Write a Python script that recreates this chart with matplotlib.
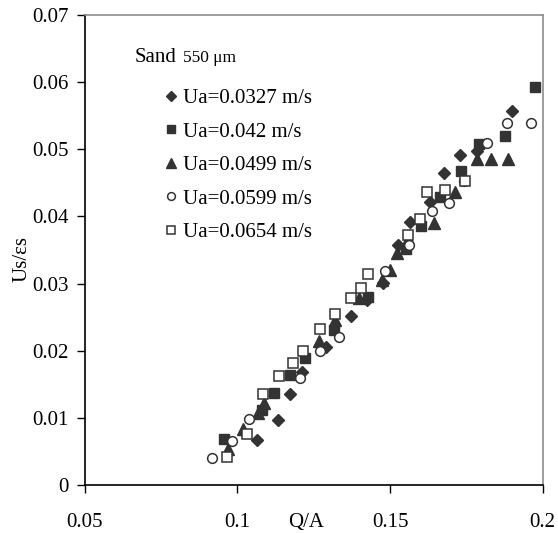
import matplotlib
matplotlib.use("Agg")
import matplotlib.pyplot as plt

plt.rcParams['font.family'] = ['Liberation Serif', 'DejaVu Serif']
plt.rcParams['mathtext.fontset'] = 'stix'

# Data (Q/A, Us/eps_s)
x_0327 = [0.1066, 0.1134, 0.1174, 0.1213, 0.1291, 0.1371, 0.1424, 0.1478, 0.1526, 0.1564, 0.1631, 0.1678, 0.1729, 0.1784, 0.1898]
y_0327 = [0.0067, 0.0097, 0.0136, 0.0168, 0.0206, 0.0251, 0.0275, 0.0301, 0.0357, 0.0391, 0.0422, 0.0465, 0.0491, 0.0498, 0.0557]

x_042 = [0.0958, 0.1080, 0.1120, 0.1174, 0.1222, 0.1317, 0.1429, 0.1553, 0.1600, 0.1663, 0.1733, 0.1792, 0.1878, 0.1974]
y_042 = [0.0069, 0.0112, 0.0137, 0.0164, 0.0189, 0.0231, 0.0280, 0.0351, 0.0385, 0.0429, 0.0467, 0.0508, 0.0520, 0.0592]

x_0499 = [0.0970, 0.1020, 0.1069, 0.1088, 0.1266, 0.1320, 0.1397, 0.1473, 0.1500, 0.1522, 0.1560, 0.1645, 0.1713, 0.1785, 0.1832, 0.1887]
y_0499 = [0.0054, 0.0084, 0.0107, 0.0122, 0.0215, 0.0246, 0.0278, 0.0305, 0.0320, 0.0345, 0.0366, 0.0390, 0.0436, 0.0485, 0.0485, 0.0485]

x_0599 = [0.0917, 0.0982, 0.1039, 0.1206, 0.1271, 0.1333, 0.1484, 0.1563, 0.1636, 0.1693, 0.1743, 0.1817, 0.1883, 0.1962]
y_0599 = [0.0040, 0.0066, 0.0099, 0.0160, 0.0199, 0.0220, 0.0319, 0.0358, 0.0408, 0.0420, 0.0452, 0.0510, 0.0539, 0.0539]

x_0654 = [0.0967, 0.1031, 0.1085, 0.1137, 0.1182, 0.1216, 0.1271, 0.1320, 0.1372, 0.1405, 0.1429, 0.1559, 0.1598, 0.1621, 0.1681, 0.1744]
y_0654 = [0.0041, 0.0076, 0.0136, 0.0163, 0.0181, 0.0199, 0.0232, 0.0255, 0.0278, 0.0294, 0.0314, 0.0373, 0.0396, 0.0436, 0.0439, 0.0453]

labels = ["Ua=0.0327 m/s", "Ua=0.042 m/s", "Ua=0.0499 m/s", "Ua=0.0599 m/s", "Ua=0.0654 m/s"]
xticks = [0.05, 0.1, 0.15, 0.2]
xticklabels = ["0.05", "0.1", "0.15", "0.2"]
yticks = [0, 0.01, 0.02, 0.03, 0.04, 0.05, 0.06, 0.07]
yticklabels = ["0", "0.01", "0.02", "0.03", "0.04", "0.05", "0.06", "0.07"]

dark = '#333333'
fig = plt.figure(figsize=(5.58, 5.33), dpi=100)
ax = fig.add_axes([0.1516, 0.0901, 0.821, 0.8818])

h1, = ax.plot(x_0327, y_0327, linestyle='none', marker='D', ms=6.5, mfc=dark, mec=dark, label=labels[0])
h2, = ax.plot(x_042, y_042, linestyle='none', marker='s', ms=7, mfc=dark, mec=dark, label=labels[1])
h3, = ax.plot(x_0499, y_0499, linestyle='none', marker='^', ms=8.5, mfc=dark, mec=dark, label=labels[2])
h4, = ax.plot(x_0599, y_0599, linestyle='none', marker='o', ms=7, mfc='white', mec=dark, mew=1.1, label=labels[3])
h5, = ax.plot(x_0654, y_0654, linestyle='none', marker='s', ms=7, mfc='white', mec=dark, mew=1.1, label=labels[4])

ax.set_xlim(0.05, 0.2)
ax.set_ylim(0, 0.07)
ax.set_xticks(xticks)
ax.set_xticklabels(xticklabels)
ax.set_yticks(yticks)
ax.set_yticklabels(yticklabels)
ax.tick_params(axis='both', direction='out', length=5.5, width=1, labelsize=15, colors='black')
ax.tick_params(axis='x', pad=15)
ax.tick_params(axis='y', pad=6)

for s in ['left', 'bottom']:
    ax.spines[s].set_color('black')
    ax.spines[s].set_linewidth(1.2)
for s in ['top', 'right']:
    ax.spines[s].set_color('#8c8c8c')
    ax.spines[s].set_linewidth(1.2)

ax.set_ylabel("Us/εs", fontsize=15)
ax.yaxis.set_label_coords(-0.115, 0.48)
ax.text(0.1225, -0.08, "Q/A", transform=ax.get_xaxis_transform(), ha='center', va='center', fontsize=15)

leg = ax.legend(handles=[h1, h2, h3, h4, h5], loc='upper left', bbox_to_anchor=(0.1705, 0.843),
                frameon=False, fontsize=15, handlelength=0.8, handletextpad=0.17,
                labelspacing=0.665, markerscale=0.8, borderaxespad=0, borderpad=0)

ax.text(0.109, 0.899, "Sand", transform=ax.transAxes, fontsize=15, ha='left', va='baseline')
ax.text(0.214, 0.899, "550 μm", transform=ax.transAxes, fontsize=12.5, ha='left', va='baseline')

fig.savefig("out.png", dpi=100)
